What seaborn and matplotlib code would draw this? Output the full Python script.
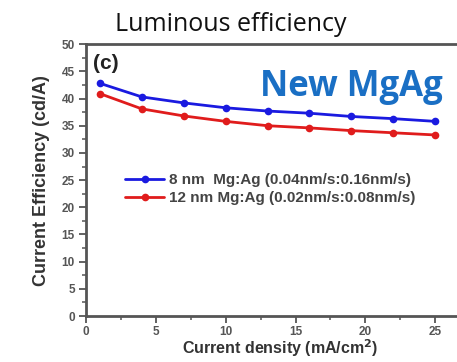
import numpy as np
import pandas as pd
import seaborn as sns
import matplotlib
matplotlib.use('Agg')
import matplotlib.pyplot as plt
from matplotlib.ticker import MultipleLocator

# 데이터
density = [1, 4, 7, 10, 13, 16, 19, 22, 25]
eff_8nm = [42.8, 40.3, 39.2, 38.3, 37.7, 37.3, 36.7, 36.3, 35.8]
eff_12nm = [40.9, 38.1, 36.8, 35.8, 35.0, 34.6, 34.1, 33.7, 33.3]
labels = ['8 nm  Mg:Ag (0.04nm/s:0.16nm/s)', '12 nm Mg:Ag (0.02nm/s:0.08nm/s)']

df = pd.DataFrame({
    'density': density * 2,
    'eff': eff_8nm + eff_12nm,
    'sample': [labels[0]] * len(density) + [labels[1]] * len(density),
})

sns.set_style('ticks')
plt.rcParams['font.family'] = ['Liberation Sans', 'DejaVu Sans']

fig = plt.figure(figsize=(4.57, 3.62), dpi=100)
ax = fig.add_axes([0.188, 0.127, 0.85, 0.751])

sns.lineplot(data=df, x='density', y='eff', hue='sample',
             palette=['#1a1ae0', '#e01c1c'], marker='o', markersize=5.5,
             markeredgewidth=0, linewidth=2, ax=ax)

ax.set_xlim(0, 27.8)
ax.set_ylim(0, 50)
ax.xaxis.set_major_locator(MultipleLocator(5))
ax.xaxis.set_minor_locator(MultipleLocator(2.5))
ax.yaxis.set_major_locator(MultipleLocator(5))
ax.yaxis.set_minor_locator(MultipleLocator(2.5))
ax.tick_params(which='major', length=5, width=1.3, labelsize=8.5, colors='#555555', pad=3)
ax.tick_params(axis='x', which='major', pad=2)
ax.tick_params(which='minor', length=3, width=1.1, colors='#555555')
for t in ax.get_xticklabels() + ax.get_yticklabels():
    t.set_fontweight('bold')
for s in ax.spines.values():
    s.set_linewidth(2)
    s.set_color('#555555')

ax.set_xlabel('Current density (mA/cm$^\\mathbf{2}$)', fontsize=11.5, fontweight='bold', color='#333333', labelpad=0)
ax.set_ylabel('Current Efficiency (cd/A)', fontsize=13, fontweight='bold', color='#333333', labelpad=8)

ax.text(0.018, 0.965, '(c)', transform=ax.transAxes, fontsize=15, fontweight='bold',
        va='top', ha='left', color='#222222')
fig.text(443 / 457, 1 - 96 / 362, 'New MgAg', fontsize=25, fontweight='bold',
         va='baseline', ha='right', color='#1a6fc4', family=['Open Sans', 'DejaVu Sans'])

leg = ax.legend(loc='center left', bbox_to_anchor=(0.1, 0.467), frameon=False,
                fontsize=11, handlelength=2.6, handletextpad=0.3, labelspacing=0.25,
                borderaxespad=0, borderpad=0)
for t in leg.get_texts():
    t.set_fontweight('bold')
    t.set_color('#444444')

fig.text(231 / 457, 1 - 31 / 362, 'Luminous efficiency', fontsize=18, ha='center', va='baseline',
         family=['Open Sans', 'DejaVu Sans'], color='#111111')

fig.savefig('out.png', dpi=100)
